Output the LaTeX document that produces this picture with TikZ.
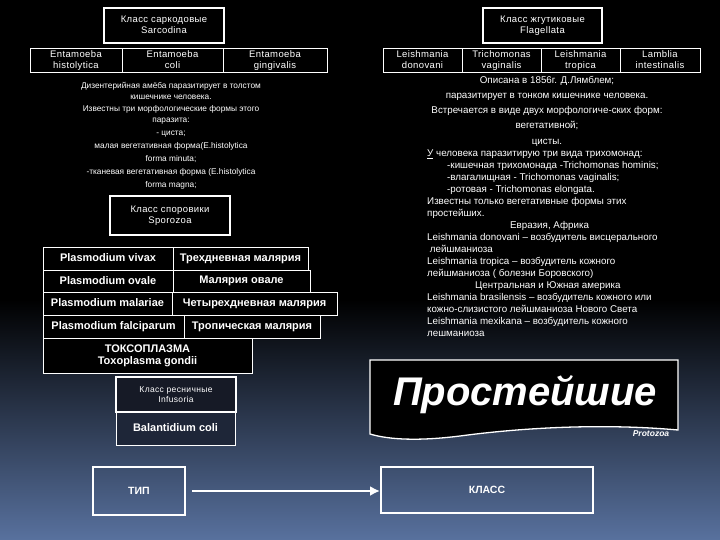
\documentclass[tikz,border=0pt]{standalone}
\usepackage{fontspec}
\setmainfont{Liberation Sans}
\usetikzlibrary{arrows.meta}
\newcommand{\sst}{\rule[-1.2pt]{0pt}{8.2pt}}
\newcommand{\pst}{\rule[-1.5pt]{0pt}{9.5pt}}
\begin{document}
\begin{tikzpicture}[x=1pt,y=-1pt,
  thick box/.style={draw=white,line width=2pt,fill=black,text=white,align=center,inner sep=0pt},
  thin box/.style={draw=white,line width=0.8pt,text=white,align=center,inner sep=0pt},
  txt/.style={text=white,inner sep=0pt},
  tiny/.style={font=\addfontfeature{LetterSpace=4}\fontsize{8.5}{10.5}\selectfont},
  small/.style={font=\addfontfeature{LetterSpace=4}\fontsize{9.5}{11}\selectfont},
  plas/.style={thin box,fill=black,font=\bfseries\fontsize{11}{12.5}\selectfont}]
\useasboundingbox (0,0) rectangle (720,540);
\fill[black] (0,0) rectangle (720,300);
\shade[top color=black,bottom color={rgb,255:red,88;green,113;blue,158}] (0,299.5) rectangle (720,540);
% Sarcodina
\node[thick box,small,minimum width=120,minimum height=35] (sar) at (164,25.5) {\sst Класс саркодовые\\\sst Sarcodina};
\node[thin box,small,minimum width=92,minimum height=24] (e1) at (76,60) {\sst Entamoeba\\\sst histolytica};
\node[thin box,small,minimum width=101,minimum height=24] (e2) at (172.5,60) {\sst Entamoeba\\\sst coli};
\node[thin box,small,minimum width=104,minimum height=24] (e3) at (275,60) {\sst Entamoeba\\\sst gingivalis};
\node[txt,align=center,font=\fontsize{8.3}{11}\selectfont] (amtext) at (171,136) {Дизентерийная амёба паразитирует в толстом\\кишечнике человека.\\[1pt]Известны  три морфологические формы этого\\паразита:\\[2pt]- циста;\\[2pt]малая вегетативная форма(E.histolytica\\[2pt]forma minuta;\\[2pt]-тканевая  вегетативная форма (E.histolytica\\[2pt]forma magna;};
\node[thick box,small,minimum width=120,minimum height=39] (spo) at (170,215.5) {\sst Класс споровики\\\sst Sporozoa};
% Plasmodium table
\node[plas,minimum width=130,minimum height=23] (p1) at (108,258.5) {\pst Plasmodium vivax};
\node[plas,minimum width=135,minimum height=23] (m1) at (240.5,258.5) {\pst Трехдневная малярия};
\node[plas,minimum width=130,minimum height=22] (p2) at (108,281) {\pst Plasmodium ovale};
\node[plas,minimum width=137,minimum height=22] (m2) at (241.5,281) {\pst Малярия овале};
\node[plas,minimum width=129,minimum height=23] (p3) at (107.5,303.5) {\pst Plasmodium malariae};
\node[plas,minimum width=165,minimum height=23] (m3) at (254.5,303.5) {\pst Четырехдневная малярия};
\node[plas,minimum width=141,minimum height=23] (p4) at (113.5,326.5) {\pst Plasmodium falciparum};
\node[plas,minimum width=136,minimum height=23] (m4) at (252,326.5) {\pst Тропическая малярия};
\node[plas,minimum width=209,minimum height=35] (tox) at (147.5,355.5) {\pst ТОКСОПЛАЗМА\\\pst Toxoplasma gondii};
% Infusoria
\node[thick box,tiny,fill={rgb,255:red,22;green,26;blue,38},minimum width=120,minimum height=35] (inf) at (176,394.5) {\sst Класс ресничные\\\sst Infusoria};
\node[thin box,fill={rgb,255:red,30;green,38;blue,56},font=\bfseries\fontsize{11}{12.5}\selectfont,minimum width=119,minimum height=33] (bal) at (175.5,428.5) {\pst Balantidium coli};
% Flagellata
\node[thick box,small,minimum width=119,minimum height=35] (fla) at (542.5,25.5) {\sst Класс жгутиковые\\\sst Flagellata};
\node[thin box,small,minimum width=79,minimum height=24] (l1) at (422.5,60) {\sst Leishmania\\\sst donovani};
\node[thin box,small,minimum width=79,minimum height=24] (l2) at (501.5,60) {\sst Trichomonas\\\sst vaginalis};
\node[thin box,small,minimum width=79,minimum height=24] (l3) at (580.5,60) {\sst Leishmania\\\sst tropica};
\node[thin box,small,minimum width=80,minimum height=24] (l4) at (660,60) {\sst Lamblia\\\sst intestinalis};
\node[txt,align=center,font=\fontsize{9.8}{15.3}\selectfont] (fltext) at (547,111) {Описана в 1856г. Д.Лямблем;\\паразитирует в тонком кишечнике человека.\\Встречается в виде двух морфологиче-ских форм:\\вегетативной;\\цисты.};
\node[txt,anchor=north west,align=left,font=\fontsize{9.8}{12}\selectfont] (tri) at (427,150) {\underline{У} человека паразитирую три вида трихомонад:\\\hspace*{20pt}-кишечная трихомонада -Trichomonas hominis;\\\hspace*{20pt}-влагалищная - Trichomonas vaginalis;\\\hspace*{20pt}-ротовая - Trichomonas elongata.\\Известны только вегетативные формы этих\\простейших.\\\hspace*{83pt}Евразия, Африка\\Leishmania donovani – возбудитель висцерального\\\ лейшманиоза\\Leishmania tropica – возбудитель кожного\\лейшманиоза ( болезни Боровского)\\\hspace*{48pt}Центральная и Южная америка\\Leishmania  brasilensis – возбудитель кожного или\\кожно-слизистого лейшманиоза Нового Света\\Leishmania mexikana – возбудитель кожного\\лешманиоза};
% Title
\draw[white,line width=1.3pt,fill=black] (370,360) -- (678,360) -- (678,430)
  .. controls (600,423) and (520,428) .. (460,436) .. controls (420,441) and (390,440) .. (370,434) -- cycle;
\node[txt,font=\bfseries\itshape\fontsize{40}{44}\selectfont] (title) at (525,395) {Простейшие};
\node[txt,font=\itshape\bfseries\fontsize{8.5}{9}\selectfont] (proto) at (651,434) {Protozoa};
% Tip / Klass
\node[thin box,line width=2pt,font=\bfseries\fontsize{10.5}{12}\selectfont,minimum width=92,minimum height=48] (tip) at (139,491) {ТИП};
\node[thin box,line width=2pt,font=\bfseries\fontsize{10.5}{12}\selectfont,minimum width=212,minimum height=46] (kl) at (487,490) {КЛАСС};
\coordinate (ts) at ([xshift=6pt]tip.east);
\draw[white,line width=2.2pt,-{Latex[length=10pt,width=10pt]}] (ts) -- (ts -| kl.west);
\end{tikzpicture}
\end{document}
